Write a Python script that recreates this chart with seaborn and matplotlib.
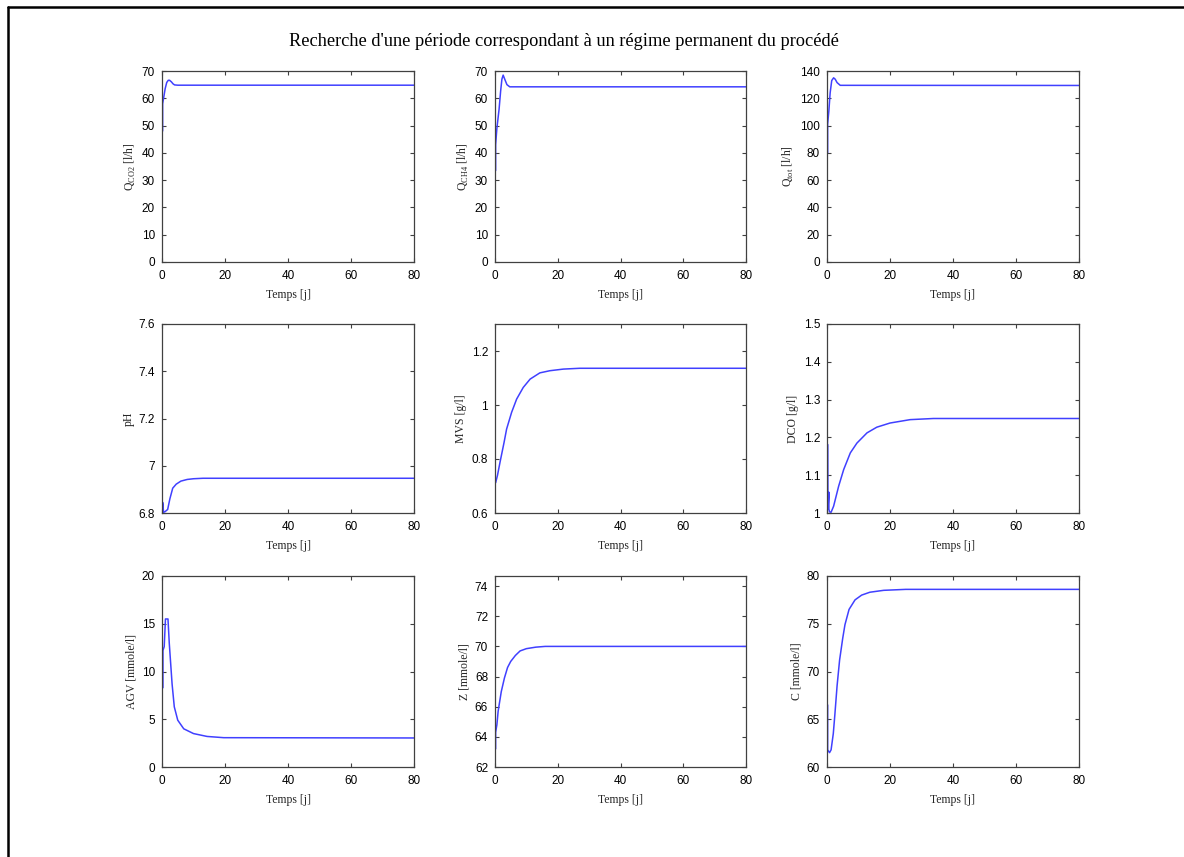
import numpy as np
import pandas as pd
import matplotlib
matplotlib.use("Agg")
import matplotlib.pyplot as plt
from matplotlib.lines import Line2D
import seaborn as sns

TITLE = "Recherche d'une période correspondant à un régime permanent du procédé"
XLABEL = "Temps [j]"

# ---- data ----
t_qco2 = [0.2, 0.2, 0.5, 1.0, 1.5, 2.0, 2.4, 3.0, 3.5, 4.0, 5.0, 80]
v_qco2 = [48.0, 58.0, 60.0, 63.5, 65.8, 66.6, 66.6, 66.0, 65.3, 64.9, 64.8, 64.8]

t_qch4 = [0.2, 0.2, 0.6, 1.3, 1.8, 2.2, 2.6, 3.1, 3.8, 4.7, 80]
v_qch4 = [33.5, 43.0, 49.0, 56.0, 62.7, 67.0, 68.5, 67.0, 65.0, 64.2, 64.2]

t_qtot = [0.2, 0.2, 0.6, 1.0, 1.5, 2.1, 2.6, 3.2, 4.2, 80]
v_qtot = [80.0, 101.0, 111.0, 124.0, 133.0, 135.0, 134.0, 131.5, 129.5, 129.4]

t_ph = [0.2, 0.2, 0.5, 1.0, 1.8, 2.5, 3.4, 4.5, 6.0, 8.0, 10.0, 13.0, 80]
v_ph = [6.800, 6.845, 6.803, 6.806, 6.815, 6.860, 6.905, 6.922, 6.935, 6.942, 6.945, 6.947, 6.947]

t_mvs = [0.2, 0.8, 1.6, 2.9, 3.7, 5.3, 6.9, 9.0, 11.2, 14.3, 17.5, 21.8, 27.0, 80]
v_mvs = [0.712, 0.740, 0.788, 0.862, 0.911, 0.973, 1.022, 1.065, 1.096, 1.119, 1.127, 1.133, 1.136, 1.136]

t_dco = [0.25, 0.3, 0.6, 0.6, 0.8, 1.3, 2.1, 3.7, 5.3, 7.4, 9.5, 12.7, 15.8, 20.0, 26.4, 33.8, 80]
v_dco = [1.181, 1.010, 1.055, 1.010, 1.003, 1.002, 1.018, 1.071, 1.115, 1.159, 1.185, 1.212, 1.227, 1.238, 1.247, 1.250, 1.250]

t_agv = [0.3, 0.3, 0.7, 1.1, 1.9, 2.3, 3.2, 3.9, 5.0, 6.9, 10.0, 14.3, 19.6, 80]
v_agv = [8.3, 12.2, 12.6, 15.5, 15.5, 13.0, 8.7, 6.3, 4.9, 4.0, 3.5, 3.2, 3.07, 3.04]

t_z = [0.2, 0.2, 0.6, 1.0, 2.0, 3.0, 4.0, 5.0, 6.5, 8.0, 10.0, 13.0, 16.0, 80]
v_z = [63.2, 64.3, 64.8, 65.7, 67.0, 67.9, 68.6, 69.0, 69.4, 69.7, 69.85, 69.95, 70.0, 70.0]

t_c = [0.2, 0.2, 0.8, 1.3, 2.0, 2.5, 3.2, 4.0, 5.0, 5.7, 7.0, 8.9, 11.0, 13.6, 18.0, 25.0, 80]
v_c = [66.5, 61.8, 61.5, 61.8, 63.5, 65.5, 68.5, 71.2, 73.5, 74.9, 76.5, 77.5, 78.0, 78.3, 78.5, 78.6, 78.6]

panels = [
    (t_qco2, v_qco2, r"Q$_{\mathrm{CO2}}$ [l/h]", (0, 70), [0, 10, 20, 30, 40, 50, 60, 70]),
    (t_qch4, v_qch4, r"Q$_{\mathrm{CH4}}$ [l/h]", (0, 70), [0, 10, 20, 30, 40, 50, 60, 70]),
    (t_qtot, v_qtot, r"Q$_{\mathrm{tot}}$ [l/h]", (0, 140), [0, 20, 40, 60, 80, 100, 120, 140]),
    (t_ph, v_ph, "pH", (6.8, 7.6), [6.8, 7.0, 7.2, 7.4, 7.6]),
    (t_mvs, v_mvs, "MVS [g/l]", (0.6, 1.3), [0.6, 0.8, 1.0, 1.2]),
    (t_dco, v_dco, "DCO [g/l]", (1.0, 1.5), [1.0, 1.1, 1.2, 1.3, 1.4, 1.5]),
    (t_agv, v_agv, "AGV [mmole/l]", (0, 20), [0, 5, 10, 15, 20]),
    (t_z, v_z, "Z [mmole/l]", (62, 74.67), [62, 64, 66, 68, 70, 72, 74]),
    (t_c, v_c, "C [mmole/l]", (60, 80), [60, 65, 70, 75, 80]),
]

def fmt(v):
    return "%g" % v

sns.set_theme(style="ticks")
plt.rcParams["font.family"] = ["Liberation Serif", "DejaVu Serif"]
plt.rcParams["mathtext.fontset"] = "custom"
plt.rcParams["mathtext.rm"] = "Liberation Serif"
plt.rcParams["axes.facecolor"] = "white"

W, H = 1184, 857
fig = plt.figure(figsize=(W / 100, H / 100), dpi=100)
fig.patch.set_facecolor("white")

col_x = [162, 495, 827]
col_w = [252, 251, 252]
row_top = [71, 324, 576]
row_h = [191, 189, 191]

for i, (tt, vv, ylab, ylim, yt) in enumerate(panels):
    r, c = divmod(i, 3)
    x0, w = col_x[c], col_w[c]
    y0, h = row_top[r], row_h[r]
    ax = fig.add_axes([x0 / W, 1 - (y0 + h) / H, w / W, h / H])
    df = pd.DataFrame({"t": tt, "v": vv})
    sns.lineplot(data=df, x="t", y="v", ax=ax, color="#4040ff", linewidth=1.1,
                 sort=False, estimator=None)
    ax.set_xlim(0, 80)
    ax.set_ylim(*ylim)
    ax.set_xticks([0, 20, 40, 60, 80])
    ax.set_yticks(yt)
    ax.set_xticklabels([fmt(x) for x in [0, 20, 40, 60, 80]], family="Liberation Sans", fontsize=8.5)
    ax.set_yticklabels([fmt(y) for y in yt], family="Liberation Sans", fontsize=8.5)
    ax.set_xlabel(XLABEL, fontsize=8.5, labelpad=5)
    ax.set_ylabel(ylab, fontsize=8.5, labelpad=3)
    for s in ax.spines.values():
        s.set_visible(True)
        s.set_color("#404040")
        s.set_linewidth(0.9)
    ax.tick_params(direction="in", length=3, width=0.8, color="#404040",
                   top=True, right=True, labelcolor="black")
    ax.tick_params(axis="x", pad=6)
    ax.tick_params(axis="y", pad=5)
    ax.grid(False)

fig.text(564 / W, 1 - 42 / H, TITLE, ha="center", va="center", fontsize=13.2,
         family="Liberation Serif", color="black")

# outer frame (left and top edges)
fig.add_artist(Line2D([7.5 / W, 7.5 / W], [0, 1 - 6.5 / H], transform=fig.transFigure,
                      color="black", linewidth=1.8))
fig.add_artist(Line2D([7.5 / W, 1], [1 - 6.5 / H, 1 - 6.5 / H], transform=fig.transFigure,
                      color="black", linewidth=1.8))

fig.savefig("out.png", dpi=100, facecolor="white")
